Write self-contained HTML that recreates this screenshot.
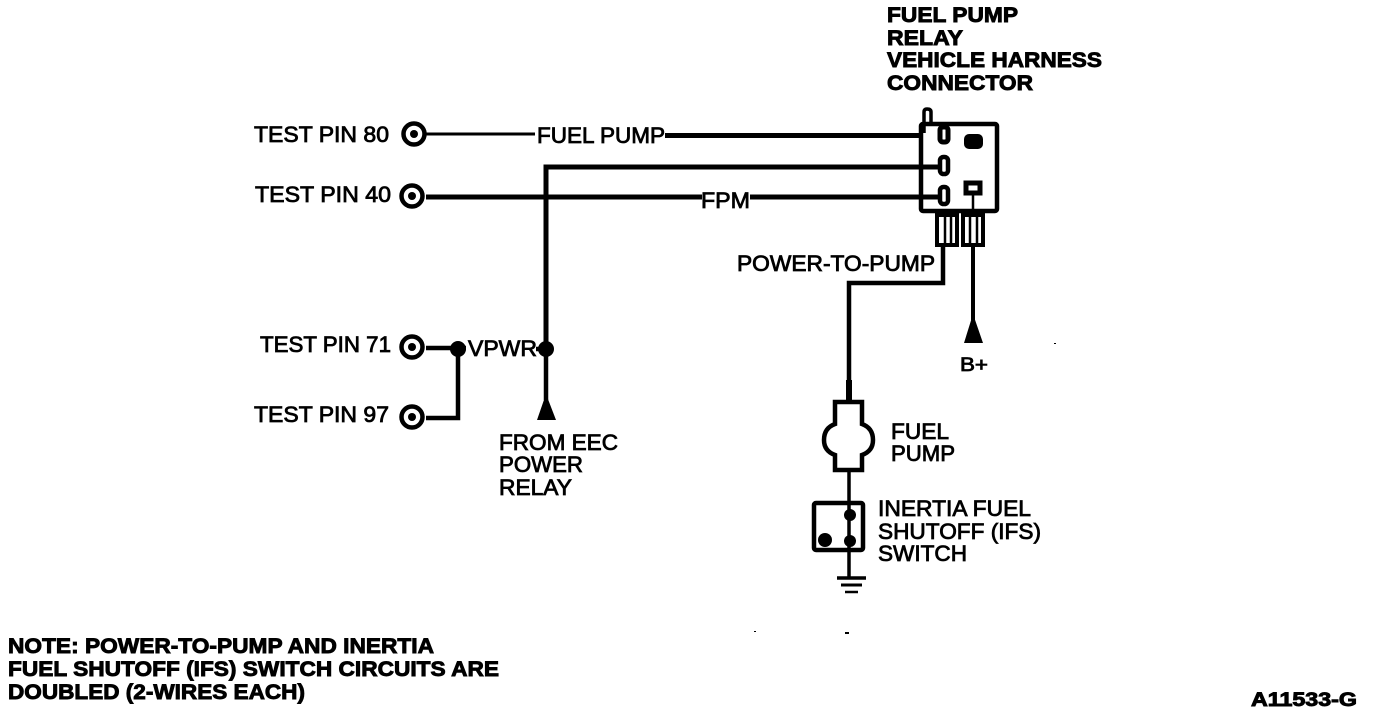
<!DOCTYPE html>
<html><head><meta charset="utf-8"><style>
html,body{margin:0;padding:0;background:#fff}
svg{display:block}
text{font-family:"Liberation Sans",sans-serif;font-size:22px;fill:#000;stroke:#000;stroke-width:.8px}
.b{font-weight:bold;font-size:21.5px;stroke-width:.9px}
</style></head><body>
<svg width="1376" height="714" viewBox="0 0 1376 714" xmlns="http://www.w3.org/2000/svg">
<g fill="none" stroke="#000" stroke-width="4">
<path d="M426 134H535" stroke-width="3"/>
<path d="M665 135.500H922" stroke-width="5"/>
<path d="M546 349V167H940" stroke-width="5"/>
<path d="M426 197H702M750 197H940" stroke-width="5"/>
<path d="M426 348H466M536 349H546" stroke-width="4.500"/>
<path d="M546 349V400" stroke-width="4.500"/>
<path d="M458 349V418H426" stroke-width="4.500"/>
<path d="M924 133V112Q924 109 927 109Q931 109 931 112V124" stroke-width="3.500"/>
<rect x="921" y="124" width="76" height="87" rx="2" stroke-width="4.500"/>
<rect x="940" y="127" width="8" height="15" rx="3" stroke-width="5"/>
<rect x="940" y="157" width="8" height="17" rx="3.500" stroke-width="4.500"/>
<rect x="940" y="187" width="8" height="17" rx="3.500" stroke-width="4.500"/>
<rect x="966" y="183" width="14" height="10" stroke-width="5"/>
<path d="M973 193V212" stroke-width="2.500"/>
<rect x="937" y="215" width="20" height="30" stroke-width="4"/>
<rect x="963" y="215" width="20" height="30" stroke-width="4"/>
<path d="M945 216V243M951 216V243M970 216V243M977 216V243" stroke-width="2.500"/>
<path d="M943 246V283H849V402" stroke-width="4.500"/>
<path d="M973 246V320" stroke-width="4"/>
<path d="M849 380V402" stroke-width="6"/>
<path d="M835 402H862V424Q873 428 873 440Q873 451 862 455V470H835V455Q824 451 824 440Q824 428 835 424Z" stroke-width="4.500"/>
<path d="M849 470V578" stroke-width="3.500"/>
<rect x="814" y="503" width="49" height="47" rx="2" stroke-width="4.500"/>
<path d="M837 578H866" stroke-width="3.500"/>
<path d="M841 585H862" stroke-width="3"/>
<path d="M845 592H858" stroke-width="2.500"/>
</g>
<g fill="#fff" stroke="#000" stroke-width="4.500">
<circle cx="414" cy="134" r="10.500"/>
<circle cx="412" cy="196" r="10.500"/>
<circle cx="412" cy="347" r="10.500"/>
<circle cx="412" cy="417" r="10.500"/>
</g>
<g fill="#000">
<circle cx="414" cy="134" r="4"/><circle cx="412" cy="196" r="4"/><circle cx="412" cy="347" r="4"/><circle cx="412" cy="417" r="4"/>
<circle cx="458" cy="349" r="8"/>
<circle cx="546" cy="349" r="8"/>
<rect x="964" y="134" width="19" height="15" rx="5"/>
<path d="M546 394L556 420H537Z"/>
<path d="M973 314L983 343H964Z"/>
<circle cx="850" cy="515" r="6"/>
<circle cx="850" cy="541" r="6"/>
<circle cx="825" cy="540" r="7"/>
<rect x="1054" y="343" width="2" height="1"/><rect x="754" y="631" width="2" height="1"/><rect x="845" y="632" width="4" height="2"/>
</g>
<text x="254" y="142" textLength="135" lengthAdjust="spacingAndGlyphs">TEST PIN 80</text>
<text x="255" y="202" textLength="136" lengthAdjust="spacingAndGlyphs">TEST PIN 40</text>
<text x="260" y="352" textLength="131" lengthAdjust="spacingAndGlyphs">TEST PIN 71</text>
<text x="254" y="422" textLength="135" lengthAdjust="spacingAndGlyphs">TEST PIN 97</text>
<text x="537" y="143" textLength="128" lengthAdjust="spacingAndGlyphs">FUEL PUMP</text>
<text x="701" y="208" textLength="49" lengthAdjust="spacingAndGlyphs">FPM</text>
<text x="468" y="356" textLength="69" lengthAdjust="spacingAndGlyphs">VPWR</text>
<text x="737" y="271" textLength="198" lengthAdjust="spacingAndGlyphs">POWER-TO-PUMP</text>
<text x="499" y="450" textLength="119" lengthAdjust="spacingAndGlyphs">FROM EEC</text>
<text x="499" y="472" textLength="84" lengthAdjust="spacingAndGlyphs">POWER</text>
<text x="499" y="495" textLength="73" lengthAdjust="spacingAndGlyphs">RELAY</text>
<text x="960" y="371" textLength="28" lengthAdjust="spacingAndGlyphs" style="font-size:19px">B+</text>
<text x="891" y="439" textLength="58" lengthAdjust="spacingAndGlyphs">FUEL</text>
<text x="891" y="461" textLength="64" lengthAdjust="spacingAndGlyphs">PUMP</text>
<text x="878" y="516" textLength="153" lengthAdjust="spacingAndGlyphs">INERTIA FUEL</text>
<text x="878" y="539" textLength="163" lengthAdjust="spacingAndGlyphs">SHUTOFF (IFS)</text>
<text x="878" y="561" textLength="89" lengthAdjust="spacingAndGlyphs">SWITCH</text>
<text class="b" x="887" y="22" textLength="131" lengthAdjust="spacingAndGlyphs">FUEL PUMP</text>
<text class="b" x="887" y="45" textLength="76" lengthAdjust="spacingAndGlyphs">RELAY</text>
<text class="b" x="887" y="67" textLength="215" lengthAdjust="spacingAndGlyphs">VEHICLE HARNESS</text>
<text class="b" x="887" y="90" textLength="146" lengthAdjust="spacingAndGlyphs">CONNECTOR</text>
<text class="b" x="8" y="653" textLength="426" lengthAdjust="spacingAndGlyphs">NOTE: POWER-TO-PUMP AND INERTIA</text>
<text class="b" x="8" y="676" textLength="491" lengthAdjust="spacingAndGlyphs">FUEL SHUTOFF (IFS) SWITCH CIRCUITS ARE</text>
<text class="b" x="8" y="699" textLength="297" lengthAdjust="spacingAndGlyphs">DOUBLED (2-WIRES EACH)</text>
<text class="b" x="1251" y="706" textLength="106" lengthAdjust="spacingAndGlyphs" style="font-size:19px">A11533-G</text>
</svg>
</body></html>
